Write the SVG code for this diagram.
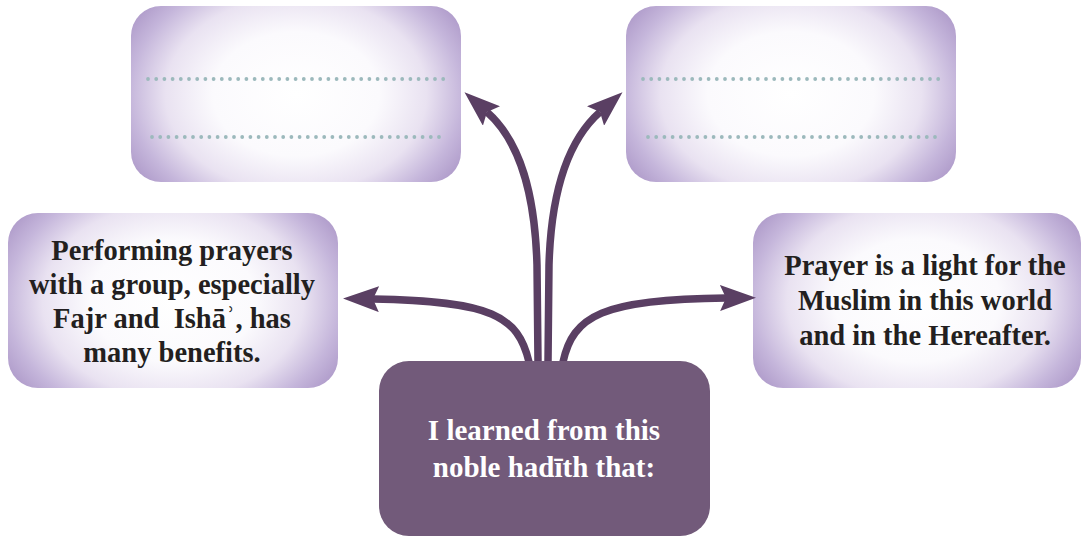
<svg xmlns="http://www.w3.org/2000/svg" width="1081" height="536" viewBox="0 0 1081 536">
  <style>
    .card { fill: url(#glow); }
    .dots { fill: none; stroke: #9cb9bc; stroke-width: 3.8; stroke-linecap: round; stroke-dasharray: 0 8.2; }
    .flow { fill: none; stroke: #5a3f63; stroke-width: 7.5; stroke-linecap: butt; }
    .label { font-family: "Liberation Serif", "Times New Roman", serif; font-weight: bold; font-size: 28.5px; text-anchor: middle; fill: #231f20; }
    .hub-label { fill: #ffffff; font-size: 29px; }
  </style>
  <defs>
    <radialGradient id="glow" cx="0.5" cy="0.5" r="0.6" gradientTransform="translate(0.5 0.5) scale(1 1.4) translate(-0.5 -0.5)">
      <stop offset="0" stop-color="#ffffff"/>
      <stop offset="0.42" stop-color="#fbfafd"/>
      <stop offset="0.66" stop-color="#e9e2f1"/>
      <stop offset="0.84" stop-color="#c5b6db"/>
      <stop offset="1" stop-color="#aa95c6"/>
    </radialGradient>
    <marker id="head" viewBox="0 0 36 26" refX="6" refY="13" markerWidth="36" markerHeight="26" markerUnits="userSpaceOnUse" orient="auto">
      <polygon points="0,0 36,13 0,26 6,13" fill="#5a3f63"/>
    </marker>
  </defs>

  <!-- blank answer card, top left -->
  <g id="blank-left">
    <rect class="card" x="131" y="6" width="330" height="176" rx="30"/>
    <line class="dots" x1="148" y1="79" x2="444" y2="79"/>
    <line class="dots" x1="152" y1="137" x2="444" y2="137"/>
  </g>

  <!-- blank answer card, top right -->
  <g id="blank-right">
    <rect class="card" x="626" y="6" width="330" height="176" rx="30"/>
    <line class="dots" x1="643" y1="79" x2="939" y2="79"/>
    <line class="dots" x1="648" y1="137" x2="939" y2="137"/>
  </g>

  <!-- lesson card, left -->
  <g id="lesson-group">
    <rect class="card" x="8" y="213" width="330" height="175" rx="30"/>
    <text class="label" x="172" y="260">Performing prayers</text>
    <text class="label" x="172" y="294">with a group, especially</text>
    <text class="label" x="172" y="328" xml:space="preserve">Fajr and  Ishāʾ, has</text>
    <text class="label" x="172" y="362">many benefits.</text>
  </g>

  <!-- lesson card, right -->
  <g id="lesson-light">
    <rect class="card" x="753" y="213" width="328" height="175" rx="30"/>
    <text class="label" x="925" y="275">Prayer is a light for the</text>
    <text class="label" x="925" y="310">Muslim in this world</text>
    <text class="label" x="925" y="345">and in the Hereafter.</text>
  </g>

  <!-- connectors fanning out of the central card -->
  <g id="connectors">
    <path class="flow" marker-end="url(#head)" d="M529,362 C518,316 492,301 373,299"/>
    <path class="flow" marker-end="url(#head)" d="M563,362 C573,316 602,299 726,298"/>
    <path class="flow" marker-end="url(#head)" d="M538,362 L537,265 C535,195 521,142 487,112"/>
    <path class="flow" marker-end="url(#head)" d="M548,362 L549,265 C551,195 566,142 600,112"/>
  </g>

  <!-- central card -->
  <g id="hub">
    <rect x="379" y="361" width="331" height="175" rx="30" fill="#725a7a"/>
    <text class="label hub-label" x="544" y="440">I learned from this</text>
    <text class="label hub-label" x="544" y="477">noble hadīth that:</text>
  </g>
</svg>
